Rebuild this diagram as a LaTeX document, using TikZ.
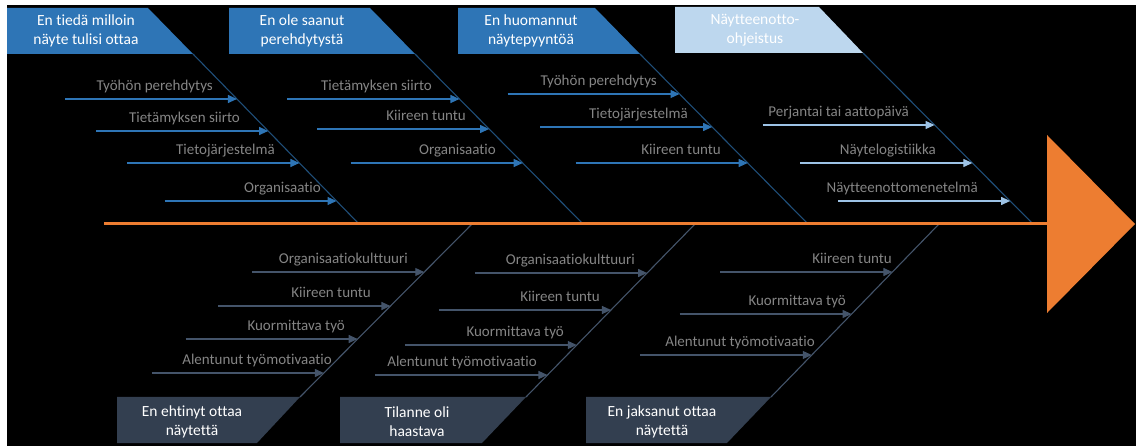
\documentclass[tikz,border=0pt]{standalone}
\usepackage{fontspec}
\setmainfont{Carlito}[Ligatures=NoCommon]
\usetikzlibrary{arrows.meta, calc, backgrounds}
\definecolor{boneCol}{HTML}{1F4E79}
\definecolor{topCol}{HTML}{2E75B6}
\definecolor{lightCol}{HTML}{BDD7EE}
\definecolor{lightArr}{HTML}{9DC3E6}
\definecolor{slateCol}{HTML}{333F50}
\definecolor{slateArr}{HTML}{44546A}
\definecolor{spineCol}{HTML}{ED7D31}
\definecolor{labelCol}{HTML}{858585}

\begin{document}
\begin{tikzpicture}[
    x=1pt, y=-1pt,
    catbox/.style={font=\fontsize{15.5}{19}\selectfont, text=white, align=center, inner sep=0pt},
    cause/.style={font=\fontsize{15}{18}\selectfont, text=labelCol, anchor=base east, inner sep=0pt},
    bone/.style={line width=1.1pt, draw=boneCol},
    arr/.style={-{Triangle[length=9pt, width=8pt]}, line width=1.1pt},
    spine/.style={line width=3pt, draw=spineCol}
]
\useasboundingbox (0,0) rectangle (1136,446);
\fill[white] (0,0) rectangle (1136,446);
\fill[black] (7,5) rectangle (1136,446);

% =====================================================================
% EFFECT: SPINE AND HEAD
% =====================================================================
\coordinate (tail) at (104,224);
\coordinate (hb) at (1047,224);
\fill[spineCol] (1047,135) -- (1135,224) -- (1047,313) -- cycle;

% =====================================================================
% CATEGORY BOXES (TOP)
% =====================================================================
\fill[topCol] (7,8) -- (148,8) -- (193,54) -- (7,54) -- cycle;
\coordinate (c1) at (193,54);
\node[catbox] (k1) at (86,31) {En tiedä milloin\\näyte tulisi ottaa};

\fill[topCol] (229,8) -- (370,8) -- (415,54) -- (229,54) -- cycle;
\coordinate (c2) at (415,54);
\node[catbox] (k2) at (302,31) {En ole saanut\\perehdytystä};

\fill[topCol] (458,8) -- (595,8) -- (640,54) -- (458,54) -- cycle;
\coordinate (c3) at (640,54);
\node[catbox] (k3) at (531,31) {En huomannut\\näytepyyntöä};

\fill[lightCol] (675,7) -- (819,7) -- (863,53) -- (675,53) -- cycle;
\coordinate (c4) at (863,53);
\node[catbox] (k4) at (755,30) {Näytteenotto-\\ohjeistus};

% =====================================================================
% CATEGORY BOXES (BOTTOM)
% =====================================================================
\fill[slateCol] (117,397) -- (300,397) -- (257,443) -- (117,443) -- cycle;
\coordinate (c5) at (300,397);
\node[catbox] (k5) at (192,422) {En ehtinyt ottaa\\näytettä};

\fill[slateCol] (340,397) -- (526,397) -- (482,443) -- (340,443) -- cycle;
\coordinate (c6) at (526,397);
\node[catbox] (k6) at (417,422) {Tilanne oli\\haastava};

\fill[slateCol] (586,397) -- (771,397) -- (727,443) -- (586,443) -- cycle;
\coordinate (c7) at (771,397);
\node[catbox] (k7) at (662,422) {En jaksanut ottaa\\näytettä};

% =====================================================================
% BONES
% =====================================================================
\coordinate (s1) at (359,224);
\coordinate (s2) at (583,224);
\coordinate (s3) at (808,224);
\coordinate (s4) at (1033,224);
\coordinate (s5) at (472,224);
\coordinate (s6) at (695,224);
\coordinate (s7) at (939,224);

\foreach \i in {1,2,3,4}
    \draw[bone] (c\i) -- (s\i);
\foreach \i in {5,6,7}
    \draw[bone, draw=slateArr] (c\i) -- (s\i);

% =====================================================================
% CAUSES
% =====================================================================
\foreach \ly/\xe/\txt [count=\j] in {99/213/Työhön perehdytys, 131/240/Tietämyksen siirto, 163/275/Tietojärjestelmä, 201/321/Organisaatio} {
    \coordinate (t1-\j) at ($(c1)!{(\ly-54)/170}!(s1)$);
    \coordinate (f1-\j) at ($(t1-\j)+(-172,0)$);
    \draw[arr, topCol] (f1-\j) -- (t1-\j);
    \node[cause] (l1-\j) at (\xe,\ly-8) {\txt};
}
\foreach \ly/\xe/\txt [count=\j] in {99/432/Tietämyksen siirto, 129/466/Kiireen tuntu, 163/496/Organisaatio} {
    \coordinate (t2-\j) at ($(c2)!{(\ly-54)/170}!(s2)$);
    \coordinate (f2-\j) at ($(t2-\j)+(-172,0)$);
    \draw[arr, topCol] (f2-\j) -- (t2-\j);
    \node[cause] (l2-\j) at (\xe,\ly-8) {\txt};
}
\foreach \ly/\xe/\txt [count=\j] in {94/657/Työhön perehdytys, 127/688/Tietojärjestelmä, 163/721/Kiireen tuntu} {
    \coordinate (t3-\j) at ($(c3)!{(\ly-54)/170}!(s3)$);
    \coordinate (f3-\j) at ($(t3-\j)+(-172,0)$);
    \draw[arr, topCol] (f3-\j) -- (t3-\j);
    \node[cause] (l3-\j) at (\xe,\ly-8) {\txt};
}
\foreach \ly/\xe/\txt [count=\j] in {125/909/Perjantai tai aattopäivä, 163/936/Näytelogistiikka, 201/978/Näytteenottomenetelmä} {
    \coordinate (t4-\j) at ($(c4)!{(\ly-53)/171}!(s4)$);
    \coordinate (f4-\j) at ($(t4-\j)+(-172,0)$);
    \draw[arr, lightArr] (f4-\j) -- (t4-\j);
    \node[cause] (l4-\j) at (\xe,\ly-8) {\txt};
}
\foreach \ly/\xe/\txt [count=\j] in {272/408/Organisaatiokulttuuri, 306/371/Kiireen tuntu, 339/345/Kuormittava työ, 373/332/Alentunut työmotivaatio} {
    \coordinate (t5-\j) at ($(c5)!{(397-\ly)/173}!(s5)$);
    \coordinate (f5-\j) at ($(t5-\j)+(-172,0)$);
    \draw[arr, slateArr] (f5-\j) -- (t5-\j);
    \node[cause] (l5-\j) at (\xe,\ly-8) {\txt};
}
\foreach \ly/\xe/\txt [count=\j] in {273/635/Organisaatiokulttuuri, 310/600/Kiireen tuntu, 345/564/Kuormittava työ, 375/537/Alentunut työmotivaatio} {
    \coordinate (t6-\j) at ($(c6)!{(397-\ly)/173}!(s6)$);
    \coordinate (f6-\j) at ($(t6-\j)+(-172,0)$);
    \draw[arr, slateArr] (f6-\j) -- (t6-\j);
    \node[cause] (l6-\j) at (\xe,\ly-8) {\txt};
}
\foreach \ly/\xe/\txt [count=\j] in {272/892/Kiireen tuntu, 314/846/Kuormittava työ, 355/815/Alentunut työmotivaatio} {
    \coordinate (t7-\j) at ($(c7)!{(397-\ly)/173}!(s7)$);
    \coordinate (f7-\j) at ($(t7-\j)+(-172,0)$);
    \draw[arr, slateArr] (f7-\j) -- (t7-\j);
    \node[cause] (l7-\j) at (\xe,\ly-8) {\txt};
}

% spine on top
\draw[spine] (tail) -- (hb);

\end{tikzpicture}
\end{document}
